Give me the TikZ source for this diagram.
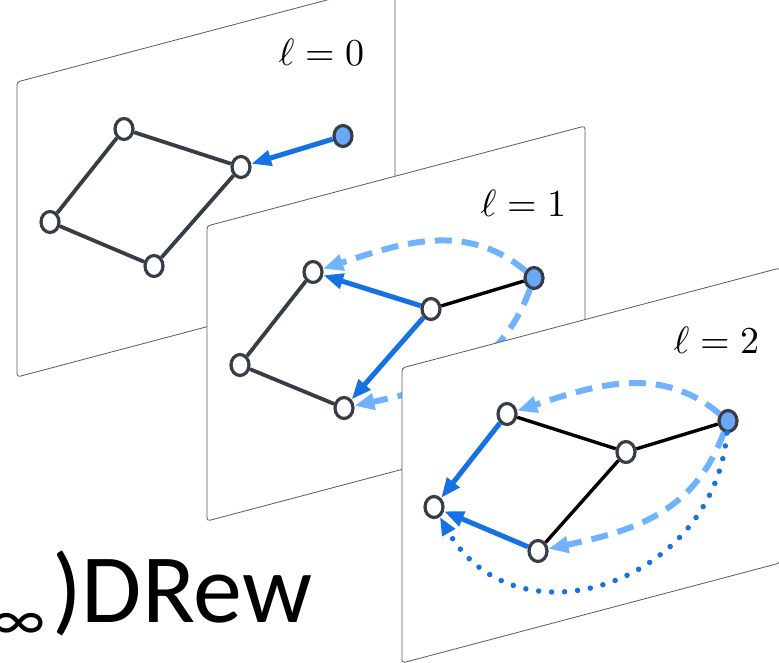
\documentclass[tikz,border=0pt]{standalone}
\usepackage{fontspec}
\usepackage{amsmath}
\usetikzlibrary{arrows.meta,shapes.geometric}
\newfontfamily\titlefont{Carlito}
\definecolor{edgegray}{RGB}{55,61,71}
\definecolor{msgblue}{RGB}{22,114,228}
\definecolor{skipblue}{RGB}{112,178,255}
\definecolor{seedblue}{RGB}{104,168,245}
\definecolor{panelgray}{RGB}{90,90,90}

\tikzset{
  vtx/.style={ellipse, draw=edgegray, line width=3.2pt, fill=white, minimum width=18pt, minimum height=21pt, inner sep=0pt},
  src/.style={vtx, fill=seedblue},
  plain/.style={edgegray, line width=3.8pt},
  bond/.style={black, line width=3.4pt},
  msg/.style={msgblue, line width=5pt, -{Triangle[length=20pt,width=15pt]}},
  hop/.style={skipblue, line width=6pt, dash pattern=on 17pt off 10pt, -{Triangle[length=20pt,width=16pt]}},
  far/.style={msgblue, line width=5.5pt, line cap=round, dash pattern=on 0pt off 13pt, -{Triangle[length=18pt,width=14pt]}},
  panel/.style={draw=panelgray, line width=0.8pt, fill=white, rounded corners=3pt},
  lvl/.style={anchor=base east, inner sep=0pt, scale=3.8},
}

\begin{document}
\begin{tikzpicture}[x=1pt,y=1pt]
	\useasboundingbox (0,0) rectangle (779,-663);
	%\draw[help lines] (0,0) grid[step=50] (779,-663);

	% layer 0
	\begin{scope}[shift={(17,-82)}]
		\draw[panel] (0,0) -- (378,100) -- (378,-195) -- (0,-295) -- cycle;
		\node[lvl] (lab0) at (348,16) {$\ell = 0$};
		\node[vtx] (a0) at (107,-47) {};
		\node[vtx] (b0) at (224,-85) {};
		\node[vtx] (c0) at (33,-140) {};
		\node[vtx] (d0) at (137,-184) {};
		\node[src] (e0) at (326,-54) {};
		\draw[plain] (a0) -- (b0);
		\draw[plain] (a0) -- (c0);
		\draw[plain] (c0) -- (d0);
		\draw[plain] (d0) -- (b0);
		\draw[msg] (e0) -- (b0);
	\end{scope}

	% layer 1
	\begin{scope}[shift={(207,-226)}]
		\draw[panel] (0,0) -- (378,100) -- (378,-195) -- (0,-295) -- cycle;
		\node[lvl] (lab1) at (360,9) {$\ell = 1$};
		\node[vtx] (a1) at (106,-46) {};
		\node[vtx] (b1) at (224,-83) {};
		\node[vtx] (c1) at (33,-139) {};
		\node[vtx] (d1) at (137,-182) {};
		\node[src] (e1) at (327,-52) {};
		\draw[plain] (a1) -- (c1);
		\draw[plain] (c1) -- (d1);
		\draw[bond] (b1) -- (e1);
		\draw[msg] (b1) -- (a1);
		\draw[msg] (b1) -- (d1);
		\draw[hop] (e1) to[out=140,in=18] (a1);
		\draw[hop] (e1) to[out=-110,in=12,looseness=1.05] (d1);
	\end{scope}

	% layer 2
	\begin{scope}[shift={(402,-368)}]
		\draw[panel] (0,0) -- (378,100) -- (378,-195) -- (0,-295) -- cycle;
		\node[lvl] (lab2) at (358,15) {$\ell = 2$};
		\node[vtx] (a2) at (105,-46) {};
		\node[vtx] (b2) at (224,-84) {};
		\node[vtx] (c2) at (32,-139) {};
		\node[vtx] (d2) at (136,-183) {};
		\node[src] (e2) at (326,-53) {};
		\draw[bond] (a2) -- (b2);
		\draw[bond] (b2) -- (e2);
		\draw[bond] (b2) -- (d2);
		\draw[msg] (a2) -- (c2);
		\draw[msg] (d2) -- (c2);
		\draw[hop] (e2) to[out=140,in=18] (a2);
		\draw[hop] (e2) to[out=-110,in=12,looseness=1.05] (d2);
		\draw[far] (e2) to[out=-95,in=-60,looseness=1.3] (c2);
	\end{scope}

	\node[anchor=base west, inner sep=0pt, font=\titlefont\fontsize{98}{104}\selectfont] (drew) at (52,-622) {)DRew};
	\node[anchor=base east, inner sep=0pt, font=\titlefont\fontsize{62}{66}\selectfont] (inf) at ([xshift=-6pt,yshift=-18pt]drew.base west) {∞};
\end{tikzpicture}
\end{document}
